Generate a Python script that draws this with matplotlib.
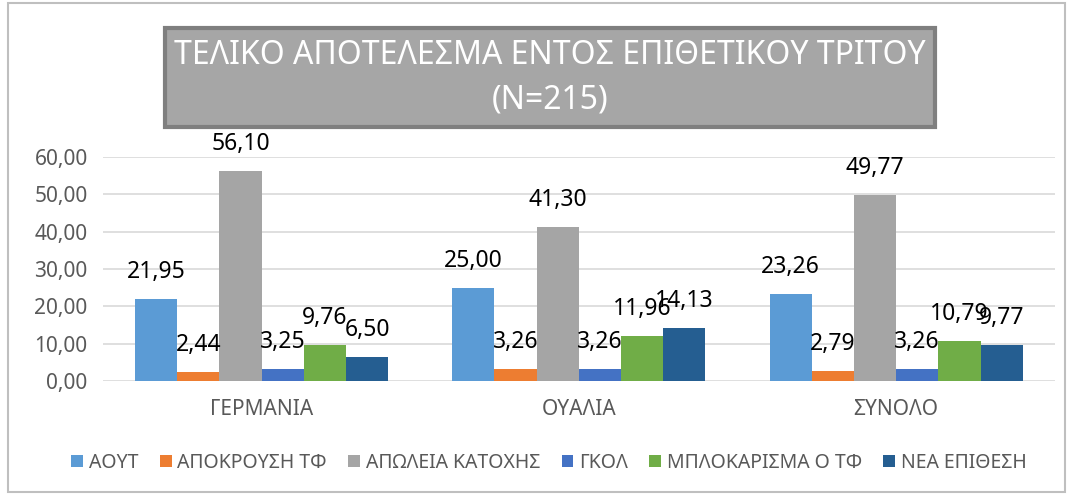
import matplotlib.pyplot as plt
import numpy as np
from matplotlib.patches import Rectangle

plt.rcParams['font.family'] = ['Noto Sans', 'DejaVu Sans']

# Δεδομένα
categories = ['ΓΕΡΜΑΝΙΑ', 'ΟΥΑΛΙΑ', 'ΣΥΝΟΛΟ']
series_names = ['ΑΟΥΤ', 'ΑΠΟΚΡΟΥΣΗ ΤΦ', 'ΑΠΩΛΕΙΑ ΚΑΤΟΧΗΣ', 'ΓΚΟΛ',
                'ΜΠΛΟΚΑΡΙΣΜΑ Ο ΤΦ', 'ΝΕΑ ΕΠΙΘΕΣΗ']
aout = [21.95, 25.00, 23.26]
apokrousi = [2.44, 3.26, 2.79]
apoleia = [56.10, 41.30, 49.77]
gkol = [3.25, 3.26, 3.26]
mplokarisma = [9.76, 11.96, 10.79]
nea_epithesi = [6.50, 14.13, 9.77]
series_values = [aout, apokrousi, apoleia, gkol, mplokarisma, nea_epithesi]
colors = ['#5B9BD5', '#ED7D31', '#A5A5A5', '#4472C4', '#70AD47', '#255E91']

fig = plt.figure(figsize=(10.73, 4.95), dpi=100)
ax = fig.add_axes([0.096, 0.230, 0.887, 0.453])

x = np.arange(len(categories))
n = len(series_names)
width = 0.133
for i, (name, vals) in enumerate(zip(series_names, series_values)):
    pos = x + (i - (n - 1) / 2) * width
    bars = ax.bar(pos, vals, width, color=colors[i], label=name, zorder=3)
    for b, v in zip(bars, vals):
        ax.annotate(f'{v:.2f}'.replace('.', ','),
                    (b.get_x() + b.get_width() / 2, v),
                    xytext=(0, 19.5), textcoords='offset points',
                    ha='center', va='center', fontsize=16.5, color='black', zorder=4)

ax.set_xlim(-0.5, len(categories) - 0.5)
ax.set_ylim(0, 60)
ax.set_yticks(np.arange(0, 61, 10))
ax.set_yticklabels([f'{t:.2f}'.replace('.', ',') for t in np.arange(0, 61, 10)])
ax.set_xticks(x)
ax.set_xticklabels(categories)
ax.tick_params(axis='both', length=0, labelsize=15, colors='#595959')
ax.tick_params(axis='x', pad=13)
ax.tick_params(axis='y', pad=11)
ax.grid(axis='y', color='#D9D9D9', linewidth=1.2, zorder=0)
for s in ax.spines.values():
    s.set_visible(False)

# Τίτλος σε πλαίσιο
fig.patches.append(Rectangle((165 / 1073, 1 - 127 / 495), 770 / 1073, 99 / 495,
                             transform=fig.transFigure, facecolor='#A6A6A6',
                             edgecolor='#7F7F7F', linewidth=3, zorder=1))
fig.text(550 / 1073, 1 - 78 / 495, 'ΤΕΛΙΚΟ ΑΠΟΤΕΛΕΣΜΑ ΕΝΤΟΣ ΕΠΙΘΕΤΙΚΟΥ ΤΡΙΤΟΥ\n(N=215)',
         ha='center', va='center', fontsize=23, color='white', linespacing=1.45, zorder=2)

# Υπόμνημα
ax.legend(loc='center', bbox_to_anchor=(549 / 1073, 1 - 463 / 495), bbox_transform=fig.transFigure,
          ncol=6, frameon=False, fontsize=14, labelcolor='#595959',
          handlelength=0.6, handleheight=0.6, handletextpad=0.3, columnspacing=1.1)

# Εξωτερικό πλαίσιο
fig.patches.append(Rectangle((8 / 1073, 3 / 495), 1057 / 1073, 489 / 495,
                             transform=fig.transFigure, fill=False,
                             edgecolor='#BFBFBF', linewidth=1.5))

fig.savefig('out.png', dpi=100)
